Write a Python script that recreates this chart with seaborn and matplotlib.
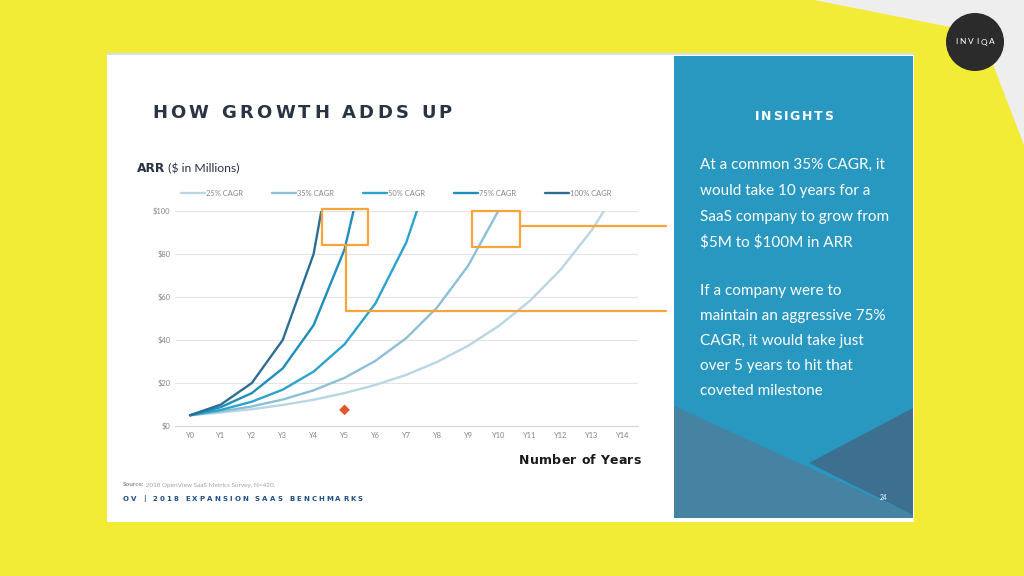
import matplotlib
matplotlib.use("Agg")
import matplotlib.pyplot as plt
from matplotlib.patches import Polygon, Rectangle, Circle
from matplotlib.lines import Line2D
import seaborn as sns
import pandas as pd

# ---------------- data ----------------
years = ["Y0", "Y1", "Y2", "Y3", "Y4", "Y5", "Y6", "Y7", "Y8", "Y9", "Y10", "Y11", "Y12", "Y13", "Y14"]
series_names = ["25% CAGR", "35% CAGR", "50% CAGR", "75% CAGR", "100% CAGR"]
cagr_25 = [5.0, 6.3, 7.8, 9.8, 12.2, 15.3, 19.1, 23.8, 29.8, 37.3, 46.6, 58.2, 72.8, 91.0, 113.7]
cagr_35 = [5.0, 6.8, 9.1, 12.3, 16.6, 22.4, 30.3, 40.9, 55.2, 74.5, 100.6]
cagr_50 = [5.0, 7.5, 11.3, 16.9, 25.3, 38.0, 57.0, 85.4, 128.1]
cagr_75 = [5.0, 8.8, 15.3, 26.8, 46.9, 82.1, 143.6]
cagr_100 = [5.0, 10.0, 20.0, 40.0, 80.0, 160.0]
y_ticks = [0, 20, 40, 60, 80, 100]
y_labels = ["$0", "$20", "$40", "$60", "$80", "$100"]
marker_year = [5]
marker_value = [7.5]

colors = ["#B9D6E3", "#8DC0D7", "#2BA3CC", "#1E8EBD", "#2D6F94"]
FONT = ["Lato", "DejaVu Sans"]
HEAVY = ["DejaVu Sans"]

rows = []
for name, vals in zip(series_names, [cagr_25, cagr_35, cagr_50, cagr_75, cagr_100]):
    for i, v in enumerate(vals):
        rows.append({"year": i, "series": name, "arr": v})
df = pd.DataFrame(rows)

sns.set_style("white")
plt.rcParams["font.family"] = FONT

fig = plt.figure(figsize=(10.24, 5.76), dpi=100)
fig.patch.set_facecolor("#F2EC37")
renderer = fig.canvas.get_renderer()

bg = fig.add_axes([0, 0, 1, 1])
bg.set_xlim(0, 1024)
bg.set_ylim(576, 0)
bg.axis("off")

# background shapes
bg.add_patch(Polygon([(814, 0), (1024, 0), (1024, 145), (992, 62), (955, 28)],
                     closed=True, fc="#EEEEEE", ec="none"))
bg.add_patch(Rectangle((107, 53), 807, 469, fc="white", ec="none"))
bg.plot([107, 914], [53.5, 53.5], color="#C5DCEB", lw=1.2)
bg.add_patch(Rectangle((674, 56), 239, 462, fc="#2898C1", ec="none"))
bg.add_patch(Polygon([(674, 406), (913, 515), (913, 518), (674, 518)], closed=True,
                     fc="#4682A2", ec="none"))
bg.add_patch(Polygon([(809, 463), (913, 408), (913, 515)], closed=True,
                     fc="#3D7090", ec="none"))
bg.add_patch(Circle((975, 42), 29, fc="#2B2B2B", ec="none"))


def measure(s, fs, weight="normal", family=FONT):
    t = bg.text(0, 0, s, fontsize=fs, weight=weight, family=family)
    w = t.get_window_extent(renderer).width
    t.remove()
    return w


def fit_fs(s, target, weight="normal", family=FONT):
    return 10 * target / measure(s, 10, weight, family)


def spaced(x, y, s, fs, color, weight="bold", target=None, spacing=0.0,
           ha="left", va="center", family=FONT):
    base = measure("HH", fs, weight, family)
    widths = [measure("H" + ch + "H", fs, weight, family) - base for ch in s]
    if target is not None:
        spacing = (target - sum(widths)) / (len(s) - 1)
    total = sum(widths) + spacing * (len(s) - 1)
    cx = x - total if ha == "right" else (x - total / 2 if ha == "center" else x)
    for ch, w in zip(s, widths):
        if ch != " ":
            bg.text(cx + w / 2, y, ch, fontsize=fs, color=color, weight=weight,
                    family=family, ha="center", va=va)
        cx += w + spacing


# logo
spaced(975, 42, "INVIQA", 6.0, "white", weight="normal", target=40, ha="center")

# titles
spaced(152, 113, "HOW GROWTH ADDS UP", 13.0, "#2A3344", weight="bold", target=300, family=HEAVY)
fs_arr = 8.8
bg.text(137, 169, "ARR", fontsize=fs_arr, weight="bold", color="#2A3344", va="center", family=HEAVY)
w_arr = measure("ARR", fs_arr, "bold", HEAVY)
bg.text(137 + w_arr, 169, r" (\$ in Millions)", fontsize=fs_arr, color="#2A3344", va="center")

spaced(641, 461, "Number of Years", 9.0, "#1A1A1A", weight="bold", target=122, ha="right",
       family=HEAVY)

fs_src = 4.6
bg.text(123, 485, "Source:", fontsize=fs_src, weight="bold", color="#8C8C8C", va="center")
w_src = measure("Source:", fs_src, "bold")
bg.text(123 + w_src, 485, " 2018 OpenView SaaS Metrics Survey, N=420.", fontsize=fs_src,
        color="#A0A0A0", va="center")
spaced(123, 499, "OV | 2018 EXPANSION SAAS BENCHMARKS", 5.0, "#1F4E86", weight="bold",
       target=240, family=HEAVY)

# insights panel
spaced(794, 117, "INSIGHTS", 9.0, "white", weight="bold", target=78, ha="center", family=HEAVY)
panel_lines = [
    (165, "At a common 35% CAGR, it"),
    (191, "would take 10 years for a"),
    (217, "SaaS company to grow from"),
    (242, r"\$5M to \$100M in ARR"),
    (291, "If a company were to"),
    (316, "maintain an aggressive 75%"),
    (341, "CAGR, it would take just"),
    (366, "over 5 years to hit that"),
    (391, "coveted milestone"),
]
fs_panel = fit_fs("maintain an aggressive 75%", 185)
for yy, s in panel_lines:
    bg.text(700, yy, s, fontsize=fs_panel, color="white", va="center", ha="left")
bg.text(884, 498, "24", fontsize=4.8, color="white", va="center", ha="center")

# ---------------- chart ----------------
W, H = 1024, 576
x0, x1, y0, y1 = 174.6, 638.0, 426.0, 211.0
ax = fig.add_axes([x0 / W, (H - y0) / H, (x1 - x0) / W, (y0 - y1) / H])
ax.patch.set_alpha(0)

sns.lineplot(data=df, x="year", y="arr", hue="series", hue_order=series_names,
             palette=dict(zip(series_names, colors)), linewidth=1.7, ax=ax,
             legend=False, sort=True, errorbar=None)
sns.scatterplot(x=marker_year, y=marker_value, marker="D", color="#E4572E", s=30,
                edgecolor="none", ax=ax, zorder=5)

ax.set_xlim(-0.5, 14.5)
ax.set_ylim(0, 100)
ax.set_xticks(range(len(years)))
ax.set_xticklabels(years)
ax.set_xticks([i - 0.5 for i in range(len(years) + 1)], minor=True)
ax.set_yticks(y_ticks)
ax.set_yticklabels(y_labels)
ax.set_xlabel("")
ax.set_ylabel("")
for side in ["top", "right", "left"]:
    ax.spines[side].set_visible(False)
ax.spines["bottom"].set_color("#D8D8D8")
ax.spines["bottom"].set_linewidth(0.8)
ax.yaxis.grid(True, color="#E4E4E4", linewidth=0.8)
ax.xaxis.grid(False)
ax.set_axisbelow(True)
ax.tick_params(axis="x", which="major", length=0, pad=4, labelsize=5.4, labelcolor="#858585")
ax.tick_params(axis="x", which="minor", length=2.5, color="#D8D8D8", width=0.6)
ax.tick_params(axis="y", length=0, pad=3, labelsize=5.4, labelcolor="#858585")

# legend
handles = [Line2D([0], [0], color=c, lw=1.7) for c in colors]
ax.legend(handles, series_names, ncol=5, frameon=False, fontsize=5.4,
          labelcolor="#858585", handlelength=3.2, handletextpad=0.1,
          columnspacing=3.9, loc="center left", borderaxespad=0, borderpad=0,
          bbox_to_anchor=(181 / W, 1 - 193 / H), bbox_transform=fig.transFigure)

# orange callout boxes
orange = "#F7A43B"
olw = 1.6
ax.plot([4.28, 5.77, 5.77, 4.28, 4.28], [100.9, 100.9, 84.2, 84.2, 100.9],
        color=orange, lw=olw, clip_on=False, zorder=6)
ax.plot([5.05, 5.05, 15.42], [84.2, 53.5, 53.5], color=orange, lw=olw, clip_on=False, zorder=6)
ax.plot([9.14, 10.69, 10.69, 9.14, 9.14], [100.2, 100.2, 83.3, 83.3, 100.2],
        color=orange, lw=olw, clip_on=False, zorder=6)
ax.plot([10.69, 15.42], [93.2, 93.2], color=orange, lw=olw, clip_on=False, zorder=6)

fig.savefig("out.png", dpi=100, facecolor=fig.get_facecolor())
